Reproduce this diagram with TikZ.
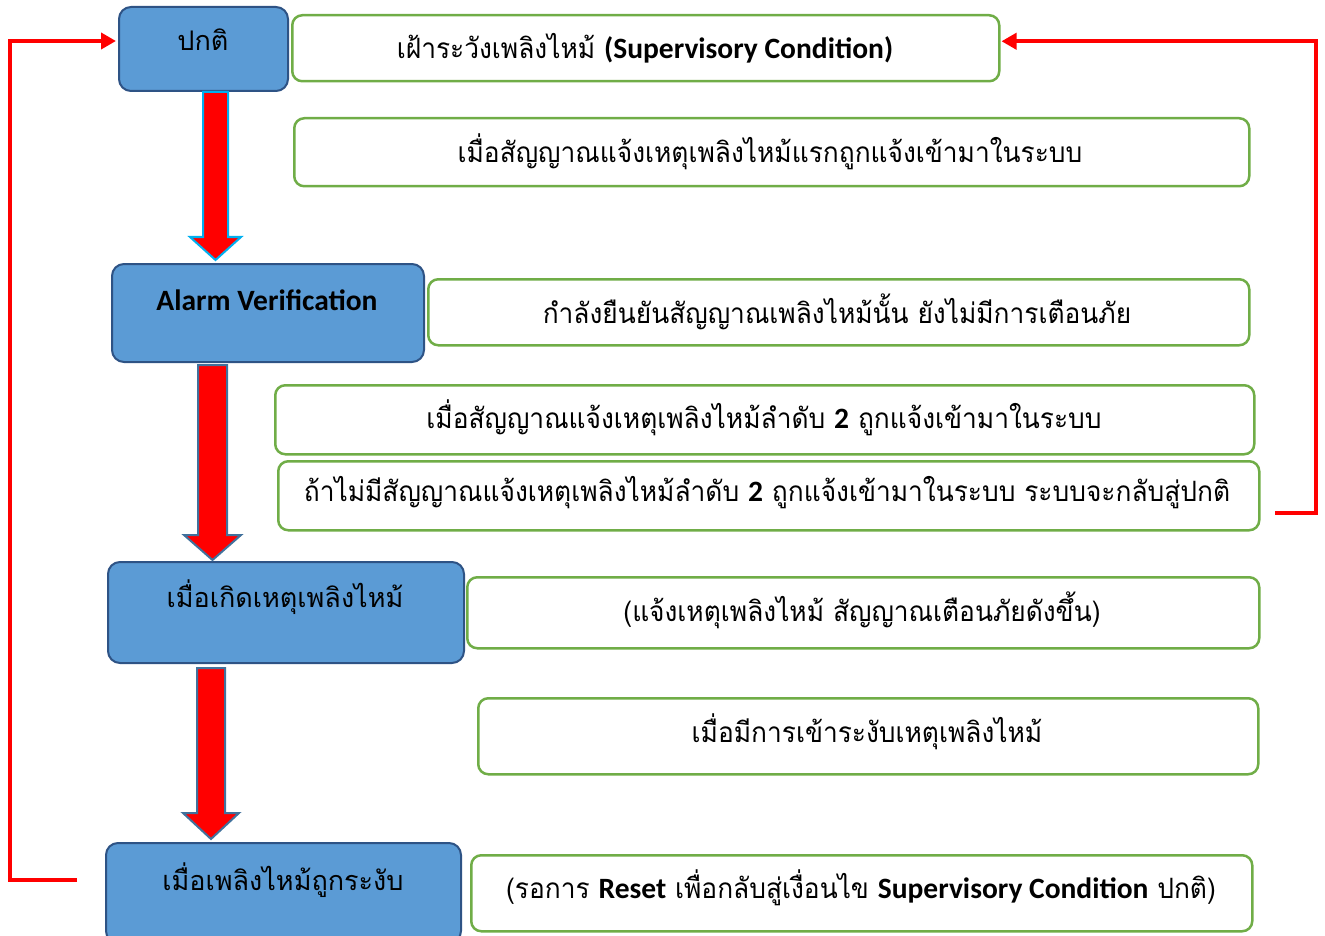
\documentclass[tikz,border=0pt]{standalone}
\usepackage{fontspec}
\setmainfont[Script=Thai]{Loma}
\newfontfamily\thaicond[Script=Thai,FakeStretch=0.94]{Loma}
\newfontfamily\latfont{Carlito}
\usetikzlibrary{arrows.meta,calc}
\definecolor{bluefill}{HTML}{5B9BD5}
\definecolor{blueline}{HTML}{2E5385}
\definecolor{greenline}{HTML}{70AD47}
\definecolor{cyanline}{HTML}{00B0F0}
\definecolor{arrline}{HTML}{41719C}
\newcommand\lat[1]{{\latfont\bfseries\fontsize{29.5}{34}\selectfont #1}}
\begin{document}
\begin{tikzpicture}[x=1pt,y=-1pt,
  bluebox/.style={draw=blueline, line width=2pt, fill=bluefill, rounded corners=12pt, anchor=north west, inner sep=0pt},
  greenbox/.style={draw=greenline, line width=2.5pt, fill=white, rounded corners=10pt, anchor=north west, inner sep=0pt},
  bluetxt/.style={font=\fontsize{27}{32}\selectfont, inner sep=0pt},
  greentxt/.style={font=\thaicond\fontsize{28}{33}\selectfont, inner sep=0pt},
  arrowbody/.style={fill=red, line width=2pt, line join=miter},
  redline/.style={draw=red, line width=4pt, -{Triangle[length=15pt,width=16pt]}}]
\useasboundingbox (0,0) rectangle (1325,936);
\clip (0,0) rectangle (1325,936);
% blue boxes
\node[bluebox, minimum width=169pt, minimum height=84pt] (b1) at (118,6) {};
\node[bluebox, minimum width=312pt, minimum height=98pt] (b2) at (111,263) {};
\node[bluebox, minimum width=356pt, minimum height=101pt] (b3) at (107,561) {};
\node[bluebox, minimum width=355pt, minimum height=100pt] (b4) at (105,842) {};
\node[bluetxt] (tb1) at (203,40) {ปกติ};
\node[bluetxt] (tb2) at (267,300) {\lat{Alarm Verification}};
\node[bluetxt] (tb3) at (285,597) {เมื่อเกิดเหตุเพลิงไหม้};
\node[bluetxt] (tb4) at (283,880) {เมื่อเพลิงไหม้ถูกระงับ};
% green boxes
\node[greenbox, minimum width=707pt, minimum height=66pt] (g1) at (291,14) {};
\node[greenbox, minimum width=955pt, minimum height=68pt] (g2) at (293,117) {};
\node[greenbox, minimum width=821pt, minimum height=66pt] (g3) at (427,278) {};
\node[greenbox, minimum width=979pt, minimum height=69pt] (g4) at (274,384) {};
\node[greenbox, minimum width=981pt, minimum height=69pt] (g5) at (277,460) {};
\node[greenbox, minimum width=792pt, minimum height=71pt] (g6) at (466,576) {};
\node[greenbox, minimum width=780pt, minimum height=76pt] (g7) at (477,697) {};
\node[greenbox, minimum width=781pt, minimum height=76pt] (g8) at (470,854) {};
\node[greentxt] (tg1) at (645,48) {เฝ้าระวังเพลิงไหม้ \lat{(Supervisory Condition)}};
\node[greentxt] (tg2) at (770,152) {เมื่อสัญญาณแจ้งเหตุเพลิงไหม้แรกถูกแจ้งเข้ามาในระบบ};
\node[greentxt] (tg3) at (837,312) {กำลังยืนยันสัญญาณเพลิงไหม้นั้น ยังไม่มีการเตือนภัย};
\node[greentxt] (tg4) at (764,418) {เมื่อสัญญาณแจ้งเหตุเพลิงไหม้ลำดับ \lat{2} ถูกแจ้งเข้ามาในระบบ};
\node[greentxt] (tg5) at (767,493) {ถ้าไม่มีสัญญาณแจ้งเหตุเพลิงไหม้ลำดับ \lat{2} ถูกแจ้งเข้ามาในระบบ ระบบจะกลับสู่ปกติ};
\node[greentxt] (tg6) at (862,610) {(แจ้งเหตุเพลิงไหม้ สัญญาณเตือนภัยดังขึ้น)};
\node[greentxt] (tg7) at (867,732) {เมื่อมีการเข้าระงับเหตุเพลิงไหม้};
\node[greentxt] (tg8) at (861,888) {(รอการ \lat{Reset} เพื่อกลับสู่เงื่อนไข \lat{Supervisory Condition} ปกติ)};
% big arrows
\draw[arrowbody, draw=cyanline] (203,92) -- (228,92) -- (228,237) -- (241,237) -- (215.5,260) -- (190,237) -- (203,237) -- cycle;
\draw[arrowbody, draw=arrline] (198,365) -- (227,365) -- (227,535) -- (241,535) -- (212.5,560) -- (184,535) -- (198,535) -- cycle;
\draw[arrowbody, draw=arrline] (197,668) -- (225,668) -- (225,813) -- (239,813) -- (211,839) -- (183,813) -- (197,813) -- cycle;
% red connectors
\coordinate (lfree) at (77,880);
\coordinate (rfree) at (1275,513);
\draw[redline, shorten >=2pt] (lfree) -- (9.5,880) |- ($(b1.west)+(0,-8)$);
\draw[redline, shorten >=1pt] (rfree) -- (1316,513) |- ($(g1.east)+(0,-7)$);
\end{tikzpicture}
\end{document}
